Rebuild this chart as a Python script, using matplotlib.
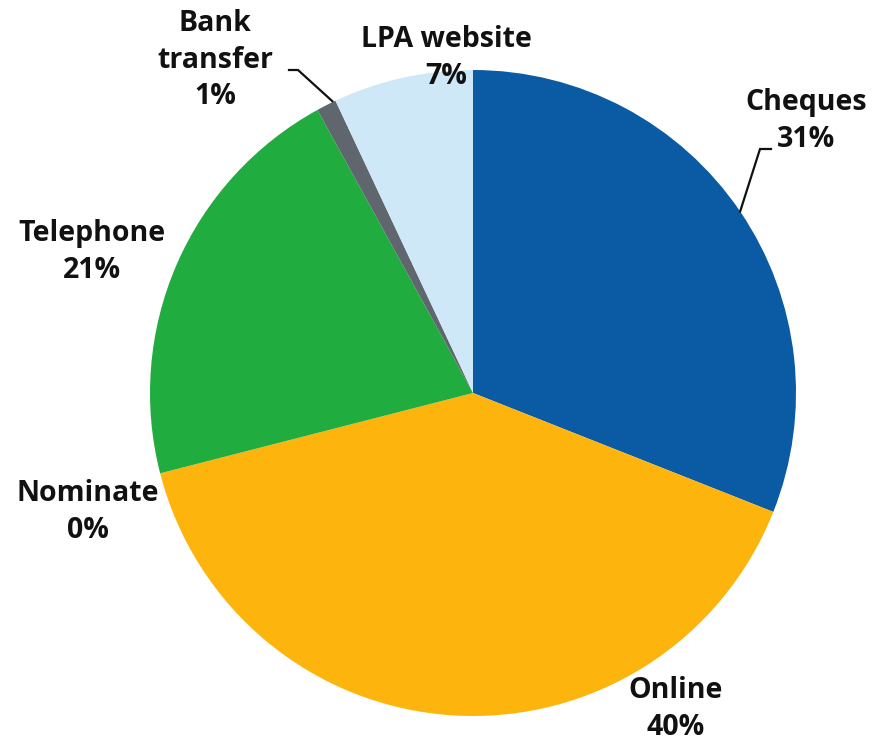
import numpy as np
import matplotlib
matplotlib.use("Agg")
import matplotlib.pyplot as plt

# Payment channel split
categories = ["Cheques", "Online", "Nominate", "Telephone", "Bank\ntransfer", "LPA website"]
shares = [31, 40, 0, 21, 1, 7]
colors = ["#0a5ba3", "#fdb50e", "#9a9a9a", "#21ac3f", "#5f666d", "#cfe8f7"]

# label anchor (centre of text block) in pixel coordinates
label_xy = [(806, 121), (676, 709), (88, 512), (92, 252), (215, 60), (446, 58)]

W, H = 874, 742
CX, CY, R = 473, H - 393, 323

plt.rcParams["font.family"] = ["Open Sans", "DejaVu Sans"]

fig = plt.figure(figsize=(W / 100, H / 100), dpi=100)
ax = fig.add_axes([0, 0, 1, 1])

wedges, _ = ax.pie(shares, colors=colors, startangle=90, counterclock=False,
                   center=(CX, CY), radius=R, frame=True,
                   wedgeprops=dict(linewidth=0))
ax.set_xlim(0, W)
ax.set_ylim(0, H)
ax.axis("off")

for name, val, (lx, ly) in zip(categories, shares, label_xy):
    ax.text(lx, H - ly, f"{name}\n{val}%", ha="center", va="center",
            fontsize=20.5, fontweight="bold", color="#111111", linespacing=1.36)


def edge_point(w):
    ang = np.deg2rad((w.theta1 + w.theta2) / 2)
    return CX + R * np.cos(ang), CY + R * np.sin(ang)


# leader lines for Cheques and Bank transfer
ex, ey = edge_point(wedges[0])
ax.plot([771, 760, ex], [H - 149, H - 149, ey], color="#111111", lw=1.6,
        solid_joinstyle="miter")
ex, ey = edge_point(wedges[4])
ax.plot([289, 298, ex + 6], [H - 70, H - 70, ey + 4], color="#111111", lw=1.6,
        solid_joinstyle="miter")

fig.savefig("out.png", dpi=100)
